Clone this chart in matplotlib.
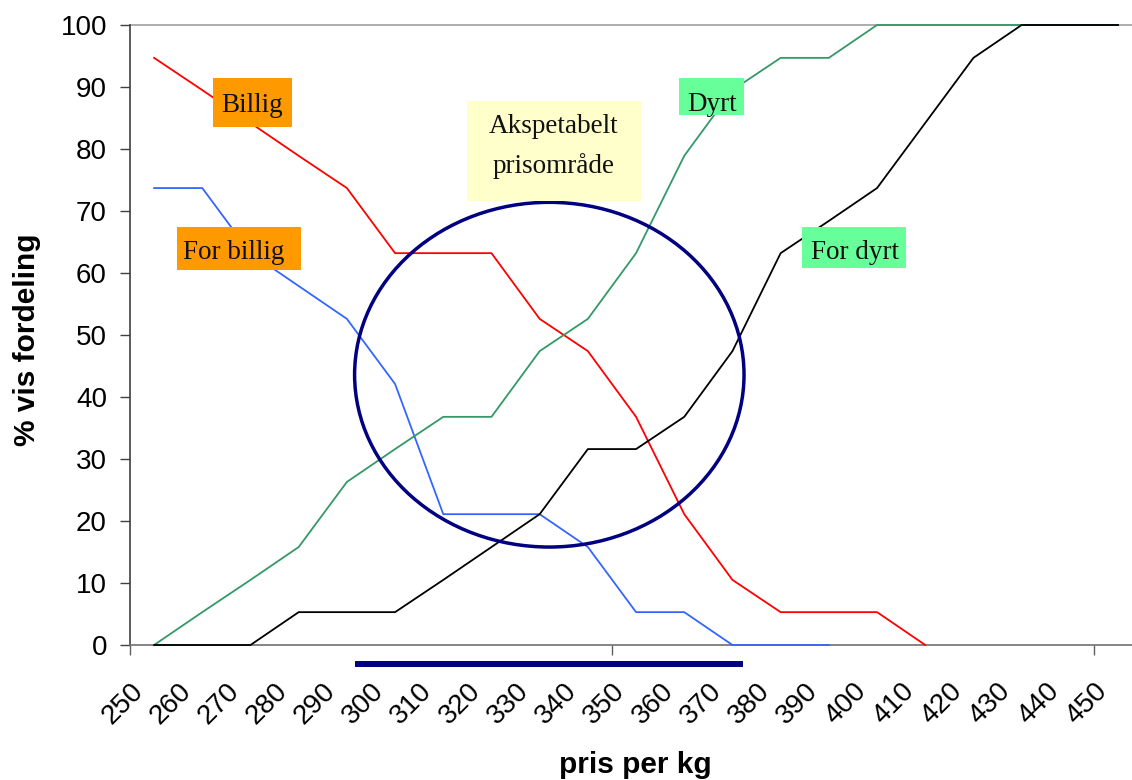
import numpy as np
import matplotlib
matplotlib.use("Agg")
import matplotlib.pyplot as plt
from matplotlib.patches import Ellipse, Rectangle
from matplotlib.transforms import ScaledTranslation

plt.rcParams["font.family"] = ["Liberation Sans", "DejaVu Sans"]

# price categories (kr per kg)
prices = [250, 260, 270, 280, 290, 300, 310, 320, 330, 340, 350,
          360, 370, 380, 390, 400, 410, 420, 430, 440, 450]

# cumulative share of answers, in percent (None = no answer at that price)
billig = [94.7, 89.5, 84.2, 78.9, 73.7, 63.2, 63.2, 63.2, 52.6, 47.4, 36.8,
          21.1, 10.5, 5.3, 5.3, 5.3, 0.0, None, None, None, None]
for_billig = [73.7, 73.7, 63.2, 57.9, 52.6, 42.1, 21.1, 21.1, 21.1, 15.8, 5.3,
              5.3, 0.0, 0.0, 0.0, None, None, None, None, None, None]
dyrt = [0.0, 5.3, 10.5, 15.8, 26.3, 31.6, 36.8, 36.8, 47.4, 52.6, 63.2,
        78.9, 89.5, 94.7, 94.7, 100, 100, 100, 100, 100, 100]
for_dyrt = [0.0, 0.0, 0.0, 5.3, 5.3, 5.3, 10.5, 15.8, 21.1, 31.6, 31.6,
            36.8, 47.4, 63.2, 68.4, 73.7, 84.2, 94.7, 100, 100, 100]

W, H = 1132, 780
fig = plt.figure(figsize=(W / 100, H / 100), dpi=100)
ax = fig.add_axes([130 / W, 1 - 645 / H, 1 - 130 / W, 620 / H])

x = np.arange(len(prices))


def series(vals):
    return np.array([np.nan if v is None else v for v in vals], dtype=float)


ax.plot(x, series(billig), color="#FF0000", lw=1.3, zorder=3, clip_on=False)
ax.plot(x, series(for_billig), color="#3366FF", lw=1.3, zorder=3, clip_on=False)
ax.plot(x, series(dyrt), color="#339966", lw=1.3, zorder=3, clip_on=False)
ax.plot(x, series(for_dyrt), color="#000000", lw=1.3, zorder=3, clip_on=False)

# acceptable price range: ellipse and bar under the axis
ax.add_patch(Ellipse((8.2, 43.6), 8.08, 55.6, fill=False,
                     edgecolor="#000080", lw=2.5, zorder=4))
ax.plot([4.17, 12.22], [-3.06, -3.06], color="#000080", lw=4.3,
        solid_capstyle="butt", clip_on=False, zorder=4)

ax.set_xlim(-0.5, 20.29)
ax.set_ylim(0, 100)

ax.set_yticks(range(0, 101, 10))
ax.tick_params(axis="y", labelsize=20, length=7.2, width=1, color="#404040",
               pad=9.4)
ax.set_xticks([-0.5, 9.5, 19.5])
ax.set_xticklabels([])
ax.tick_params(axis="x", length=7.2, width=1, color="#606060")

for side in ["top", "right"]:
    ax.spines[side].set_visible(False)
ax.spines["left"].set_color("#404040")
ax.spines["left"].set_linewidth(1.2)
ax.spines["bottom"].set_color("#707070")
ax.spines["bottom"].set_linewidth(1.2)
ax.axhline(100, color="#A0A0A0", lw=1.2, zorder=1, clip_on=False)

# rotated category labels
off = ScaledTranslation(-15 / 100, -42 / 100, fig.dpi_scale_trans)
for i, p in enumerate(prices):
    ax.text(i, 0, str(p), transform=ax.get_xaxis_transform() + off,
            rotation=45, rotation_mode="anchor", ha="right", va="center",
            fontsize=20)

fig.text(27 / W, 1 - 340 / H, "% vis fordeling", rotation=90, ha="center",
         va="center", fontsize=21.5, fontweight="bold")
fig.text(635 / W, 1 - 773 / H, "pris per kg", ha="center", va="baseline",
         fontsize=21.5, fontweight="bold")


def label_box(lines, box, face, cx, baselines):
    left, top, right, bottom = box
    fig.add_artist(Rectangle((left / W, 1 - bottom / H), (right - left) / W,
                             (bottom - top) / H, transform=fig.transFigure,
                             facecolor=face, edgecolor="none", zorder=5))
    for line, b in zip(lines, baselines):
        fig.text(cx / W, 1 - b / H, line, ha="center", va="baseline",
                 fontsize=19.5, family=["Liberation Serif", "DejaVu Serif"],
                 color="#111111", zorder=6)


label_box(["Billig"], (213, 78, 292, 127), "#FF9900", 252, [112])
label_box(["For billig"], (177, 227, 301, 270), "#FF9900", 234, [259])
label_box(["Akspetabelt", "prisområde"], (467, 101, 641, 201), "#FFFFCC",
          554, [133, 173])
label_box(["Dyrt"], (679, 78, 744, 115), "#66FF99", 712, [111])
label_box(["For dyrt"], (802, 227, 906, 268), "#66FF99", 855, [259])

fig.savefig("out.png", dpi=100)
